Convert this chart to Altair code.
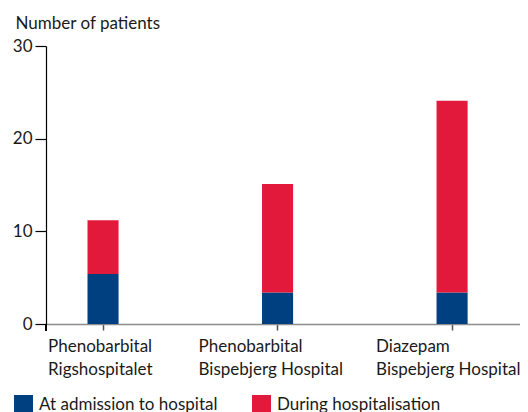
import altair as alt
import pandas as pd

groups = ["Phenobarbital|Rigshospitalet", "Phenobarbital|Bispebjerg Hospital", "Diazepam|Bispebjerg Hospital"]
series = ["At admission to hospital", "During hospitalisation"]
at_admission = [5.4, 3.4, 3.4]
during = [5.8, 11.7, 20.7]
y_ticks = [0, 10, 20, 30]
colors = ["#003f80", "#e2193a"]
label_offsets = [-55, -79, -76]

rows = []
for g, a, d in zip(groups, at_admission, during):
    rows.append({"group": g, "series": series[0], "value": a, "ord": 0})
    rows.append({"group": g, "series": series[1], "value": d, "ord": 1})
df = pd.DataFrame(rows)

FONT = "Lato"
FS = 17

offset_expr = " : ".join(
    f"datum.value == '{g}' ? {o}" for g, o in zip(groups[:-1], label_offsets[:-1])
) + f" : {label_offsets[-1]}"

bars = alt.Chart(df).mark_bar().encode(
    x=alt.X(
        "group:N",
        sort=groups,
        scale=alt.Scale(paddingInner=0.822, paddingOuter=0.269, align=0.442),
        axis=alt.Axis(
            title=None,
            labelAngle=0,
            labelExpr="split(datum.label, '|')",
            labelAlign="left",
            labelOffset={"expr": offset_expr},
            labelFont=FONT,
            labelFontSize=FS,
            labelColor="#1a1a1a",
            labelPadding=8,
            labelLineHeight=23,
            labelBaseline="top",
            labelLimit=0,
            domainColor="#8c8c8c",
            domainWidth=1.5,
            tickColor="#555555",
            tickSize=6,
            tickWidth=1.5,
        ),
    ),
    y=alt.Y(
        "value:Q",
        stack="zero",
        scale=alt.Scale(domain=[0, 30], nice=False),
        axis=alt.Axis(
            values=y_ticks,
            title="Number of patients",
            titleAngle=0,
            titleAlign="left",
            titleBaseline="alphabetic",
            titleX=-31,
            titleY=-18,
            titleFont=FONT,
            titleFontSize=FS,
            titleFontWeight="normal",
            titleColor="#1a1a1a",
            labelFont=FONT,
            labelFontSize=FS,
            labelColor="#1a1a1a",
            labelPadding=3,
            domainColor="#000000",
            domainWidth=1.2,
            tickColor="#000000",
            tickSize=11,
            tickWidth=1.2,
            grid=False,
        ),
    ),
    color=alt.Color(
        "series:N",
        sort=series,
        scale=alt.Scale(domain=series, range=colors),
        legend=alt.Legend(
            title=None,
            orient="none",
            legendX=-32,
            legendY=349,
            direction="horizontal",
            symbolType="square",
            symbolSize=361,
            symbolStrokeWidth=0,
            symbolOpacity=1,
            labelFont=FONT,
            labelFontSize=FS,
            labelColor="#1a1a1a",
            labelOffset=6,
            labelLimit=0,
            columnPadding=34,
        ),
    ),
    order=alt.Order("ord:Q"),
)

stub = alt.Chart(df).mark_rule(color="#000000", strokeWidth=1.2).encode(
    x=alt.value(0), y=alt.value(278), y2=alt.value(285)
)

chart = alt.layer(bars, stub).properties(
    width=474,
    height=278,
    autosize=alt.AutoSizeParams(type="none"),
    padding={"left": 38, "top": 38, "right": 0, "bottom": 88},
).configure_view(stroke=None).configure_mark(opacity=1)

chart.save("out.html", embed_options={"renderer": "svg", "actions": False})
